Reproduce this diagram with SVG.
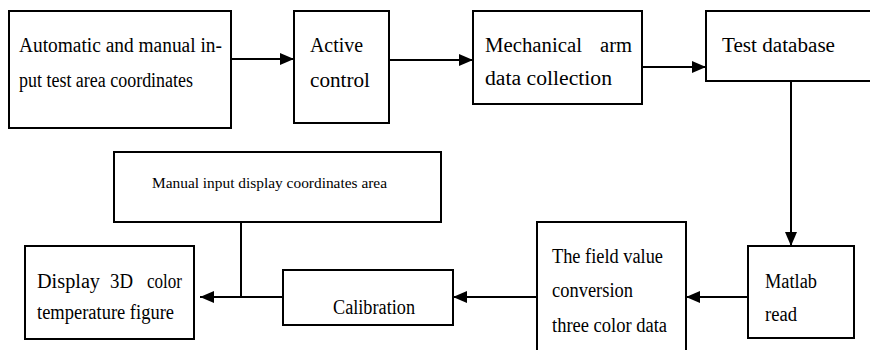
<svg xmlns="http://www.w3.org/2000/svg" width="870" height="350" viewBox="0 0 870 350">
<style>
.b{fill:#fff;stroke:#000;stroke-width:2}
.t{font-family:"Liberation Serif","Times New Roman",serif;font-size:20px;fill:#000}
.s{font-family:"Liberation Serif","Times New Roman",serif;font-size:14px;fill:#000}
.c{fill:none;stroke:#000;stroke-width:2}
</style>
<defs>
<marker id="ah" viewBox="0 0 14 12" refX="14" refY="6" markerWidth="14" markerHeight="12" markerUnits="userSpaceOnUse" orient="auto">
<path d="M0,0 L14,6 L0,12 Z" fill="#000"/>
</marker>
</defs>
<rect width="870" height="350" fill="#fff"/>
<g id="connectors">
<line class="c" x1="231" y1="59" x2="294" y2="59" marker-end="url(#ah)"/>
<line class="c" x1="389" y1="60" x2="473" y2="60" marker-end="url(#ah)"/>
<line class="c" x1="642" y1="67" x2="706" y2="67" marker-end="url(#ah)"/>
<line class="c" x1="791" y1="81" x2="791" y2="246" marker-end="url(#ah)"/>
<line class="c" x1="748" y1="297" x2="686" y2="297" marker-end="url(#ah)"/>
<line class="c" x1="537" y1="297" x2="453" y2="297" marker-end="url(#ah)"/>
<line class="c" x1="283" y1="297" x2="200" y2="297" marker-end="url(#ah)"/>
<line class="c" x1="241" y1="222" x2="241" y2="297"/>
</g>
<g id="n1">
<rect class="b" x="9" y="11" width="222" height="117"/>
<text class="t" x="19" y="52" textLength="203" lengthAdjust="spacingAndGlyphs">Automatic and manual in-</text>
<text class="t" x="19" y="87" textLength="174" lengthAdjust="spacingAndGlyphs">put test area coordinates</text>
</g>
<g id="n2">
<rect class="b" x="294" y="11" width="95" height="112"/>
<text class="t" x="310" y="52" textLength="53" lengthAdjust="spacingAndGlyphs">Active</text>
<text class="t" x="310" y="87" textLength="60" lengthAdjust="spacingAndGlyphs">control</text>
</g>
<g id="n3">
<rect class="b" x="473" y="11" width="169" height="93"/>
<text class="t" x="485" y="52" textLength="97" lengthAdjust="spacingAndGlyphs">Mechanical</text>
<text class="t" x="600" y="52" textLength="32" lengthAdjust="spacingAndGlyphs">arm</text>
<text class="t" x="485" y="85" textLength="127" lengthAdjust="spacingAndGlyphs">data collection</text>
</g>
<g id="n4">
<rect class="b" x="706" y="11" width="170" height="70"/>
<text class="t" x="722" y="52" textLength="113" lengthAdjust="spacingAndGlyphs">Test database</text>
</g>
<g id="n5">
<rect class="b" x="748" y="246" width="106" height="92"/>
<text class="t" x="765" y="288" textLength="52" lengthAdjust="spacingAndGlyphs">Matlab</text>
<text class="t" x="765" y="321" textLength="32" lengthAdjust="spacingAndGlyphs">read</text>
</g>
<g id="n6">
<rect class="b" x="537" y="222" width="149" height="140"/>
<text class="t" x="552" y="263" textLength="111" lengthAdjust="spacingAndGlyphs">The field value</text>
<text class="t" x="552" y="297" textLength="81" lengthAdjust="spacingAndGlyphs">conversion</text>
<text class="t" x="552" y="332" textLength="115" lengthAdjust="spacingAndGlyphs">three color data</text>
</g>
<g id="n7">
<rect class="b" x="283" y="270" width="170" height="55"/>
<text class="t" x="333" y="314" textLength="82" lengthAdjust="spacingAndGlyphs">Calibration</text>
</g>
<g id="n8">
<rect class="b" x="114" y="152" width="327" height="70"/>
<text class="s" x="152" y="188" textLength="235" lengthAdjust="spacingAndGlyphs">Manual input display coordinates  area</text>
</g>
<g id="n9">
<rect class="b" x="25" y="246" width="169" height="93"/>
<text class="t" x="37" y="288" textLength="63" lengthAdjust="spacingAndGlyphs">Display</text>
<text class="t" x="110" y="288" textLength="23" lengthAdjust="spacingAndGlyphs">3D</text>
<text class="t" x="147" y="288" textLength="35" lengthAdjust="spacingAndGlyphs">color</text>
<text class="t" x="37" y="319" textLength="137" lengthAdjust="spacingAndGlyphs">temperature figure</text>
</g>
</svg>
